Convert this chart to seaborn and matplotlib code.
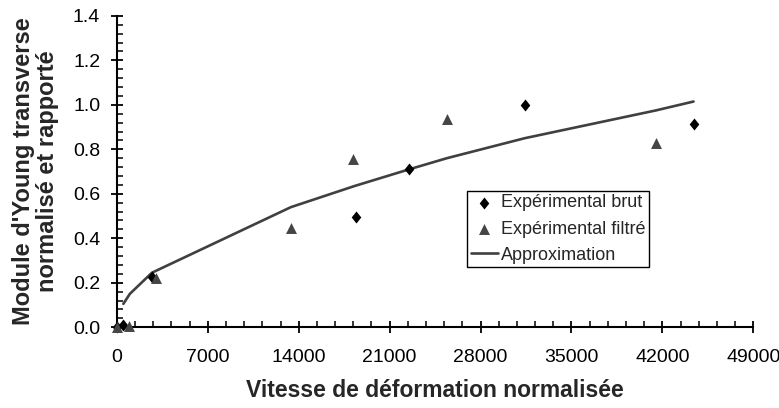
import seaborn as sns
import matplotlib.pyplot as plt
from matplotlib.ticker import MultipleLocator

# ---- data ----
brut_x = [0, 500, 2700, 18400, 22500, 31400, 44400]
brut_y = [0.0, 0.01, 0.225, 0.495, 0.71, 1.0, 0.912]

filtre_x = [0, 900, 3050, 13400, 18200, 25400, 41500]
filtre_y = [0.0, 0.006, 0.222, 0.445, 0.757, 0.938, 0.83]

approx_x = [500, 1000, 2700, 13400, 18300, 22500, 25400, 31400, 41500, 44400]
approx_y = [0.105, 0.15, 0.245, 0.54, 0.635, 0.71, 0.76, 0.85, 0.975, 1.015]

x_ticks = list(range(0, 49001, 7000))
y_ticks = [0.0, 0.2, 0.4, 0.6, 0.8, 1.0, 1.2, 1.4]

sns.set_style('ticks')
plt.rcParams['font.family'] = ['Liberation Sans', 'DejaVu Sans']

fig = plt.figure(figsize=(7.79, 4.08), dpi=100)
ax = fig.add_axes([0.150, 0.198, 0.817, 0.763])

# slightly taller than wide, like the reference diamonds
diamond = [(0, 1), (0.8, 0), (0, -1), (-0.8, 0), (0, 1)]

sns.lineplot(x=approx_x, y=approx_y, ax=ax, color='#404040', linewidth=1.9,
             label='Approximation', sort=False)
sns.scatterplot(x=brut_x, y=brut_y, ax=ax, marker=diamond, s=75, color='black',
                edgecolor='black', linewidth=0, label='Expérimental brut', zorder=3)
sns.scatterplot(x=filtre_x, y=filtre_y, ax=ax, marker='^', s=62, color='#454545',
                edgecolor='#454545', linewidth=0, label='Expérimental filtré', zorder=4)

ax.set_xlim(0, 49000)
ax.set_ylim(0, 1.4)
ax.set_xticks(x_ticks)
ax.set_xticklabels([str(v) for v in x_ticks])
ax.set_yticks(y_ticks)
ax.set_yticklabels([f'{v:.1f}' for v in y_ticks])
ax.xaxis.set_minor_locator(MultipleLocator(1400))
ax.yaxis.set_minor_locator(MultipleLocator(0.04))
ax.tick_params(which='major', direction='inout', length=8, width=1.3,
               labelsize=14, colors='black', pad=8)
ax.tick_params(axis='x', which='major', pad=12)
ax.tick_params(which='minor', direction='in', length=4, width=1.3)
for s in ['top', 'right']:
    ax.spines[s].set_visible(False)
for s in ['left', 'bottom']:
    ax.spines[s].set_linewidth(1.5)
    ax.spines[s].set_color('black')
for c in ax.collections:
    c.set_clip_on(False)

ax.set_xlabel('Vitesse de déformation normalisée', fontsize=16.5,
              fontweight='bold', labelpad=9)
ax.set_ylabel("Module d'Young transverse\nnormalisé et rapporté", fontsize=17,
              fontweight='bold', labelpad=10, linespacing=1.08)

handles, labels = ax.get_legend_handles_labels()
order = [labels.index('Expérimental brut'), labels.index('Expérimental filtré'),
         labels.index('Approximation')]
leg = ax.legend([handles[i] for i in order], [labels[i] for i in order],
                loc='upper left', bbox_to_anchor=(0.550, 0.438), fontsize=13,
                frameon=True, fancybox=False, edgecolor='black', framealpha=1,
                borderpad=0.2, labelspacing=0.5, handlelength=1.55,
                handletextpad=0.15, borderaxespad=0)
leg.get_frame().set_linewidth(1)

fig.savefig('out.png', dpi=100)
